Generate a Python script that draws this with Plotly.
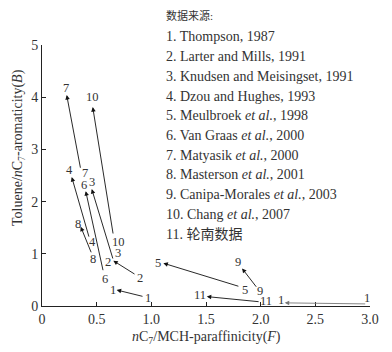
import plotly.graph_objects as go

# arrow data: tail (start) -> head (end), one arrow per data source
labels = ["1", "2", "3", "4", "5", "6", "7", "8", "9", "10", "11", "1"]
tail_x = [0.933, 0.86, 0.652, 0.433, 1.81, 0.561, 0.354, 0.455, 1.97, 0.652, 1.995, 2.97]
tail_y = [0.178, 0.594, 0.881, 1.30, 0.37, 0.657, 2.62, 1.00, 0.34, 1.36, 0.08, 0.04]
head_x = [0.683, 0.652, 0.455, 0.272, 1.11, 0.40, 0.226, 0.354, 1.83, 0.464, 1.507, 2.22]
head_y = [0.307, 0.868, 2.24, 2.47, 0.82, 2.20, 4.04, 1.52, 0.72, 3.81, 0.18, 0.06]

# label pixel offsets (dx right, dy down)
tail_off = [(4, 1), (4, 3), (5, -7), (3, 4), (5, 3), (2, 7), (4, 4), (1, 5), (3, 3), (5, 7), (6, -1), (0, -6)]
head_off = [(-4, 0), (-5, 1), (0, -7), (-2, -7), (-5, 0), (-2, -6), (-1, -7), (-3, -3), (-4, -6), (0, -10), (-7, -2), (-4, -3)]

sources = [
    "1. Thompson, 1987",
    "2. Larter and Mills, 1991",
    "3. Knudsen and Meisingset, 1991",
    "4. Dzou and Hughes, 1993",
    "5. Meulbroek <i>et al.</i>, 1998",
    "6. Van Graas <i>et al.</i>, 2000",
    "7. Matyasik <i>et al.</i>, 2000",
    "8. Masterson <i>et al.</i>, 2001",
    "9. Canipa-Morales <i>et al.</i>, 2003",
    "10. Chang <i>et al.</i>, 2007",
    "11. 轮南数据",
]

x_ticks = [0, 0.5, 1.0, 1.5, 2.0, 2.5, 3.0]
x_ticktext = ["0", "0.5", "1.0", "1.5", "2.0", "2.5", "3.0"]
y_ticks = [0, 1, 2, 3, 4, 5]

FONT = "Liberation Serif, Noto Sans CJK SC, serif"
TXT = "#333333"

L, R, T, B = 42, 22, 45, 46
W, H = 392, 352
pw, ph = W - L - R, H - T - B


def px2paper(px, py):
    return (px - L) / pw, (H - B - py) / ph


fig = go.Figure()
fig.add_trace(go.Scatter(x=[0, 3], y=[0, 5], mode="markers",
                         marker=dict(opacity=0), hoverinfo="skip", showlegend=False))

ann = []
for i, lab in enumerate(labels):
    col = "#777777" if i == len(labels) - 1 else "#111111"
    ann.append(dict(x=head_x[i], y=head_y[i], ax=tail_x[i], ay=tail_y[i],
                    xref="x", yref="y", axref="x", ayref="y", text="",
                    showarrow=True, arrowhead=2, arrowsize=1.0, arrowwidth=0.9,
                    arrowcolor=col, standoff=0, startstandoff=0))
    dx, dy = tail_off[i]
    ann.append(dict(x=tail_x[i], y=tail_y[i], xref="x", yref="y", text=lab,
                    showarrow=False, xshift=dx, yshift=-dy,
                    xanchor="center", yanchor="middle",
                    font=dict(family=FONT, size=12.5, color=TXT)))
    dx, dy = head_off[i]
    ann.append(dict(x=head_x[i], y=head_y[i], xref="x", yref="y", text=lab,
                    showarrow=False, xshift=dx, yshift=-dy,
                    xanchor="center", yanchor="middle",
                    font=dict(family=FONT, size=12.5, color=TXT)))

# legend of data sources
lx, ly = px2paper(164, 16)
ann.append(dict(x=lx, y=ly, xref="paper", yref="paper", text="数据来源:",
                showarrow=False, xanchor="left", yanchor="middle",
                font=dict(family=FONT, size=11, color=TXT)))
for i, s in enumerate(sources):
    lx, ly = px2paper(164, 37 + 19.7 * i)
    ann.append(dict(x=lx, y=ly, xref="paper", yref="paper", text=s,
                    showarrow=False, xanchor="left", yanchor="middle",
                    font=dict(family=FONT, size=14, color=TXT)))

# axis titles
tx, ty = px2paper(206, 337)
ann.append(dict(x=tx, y=ty, xref="paper", yref="paper",
                text="<i>n</i>C<sub>7</sub>/MCH-paraffinicity(<i>F</i>)",
                showarrow=False, xanchor="center", yanchor="middle",
                font=dict(family=FONT, size=14, color=TXT)))
tx, ty = px2paper(18, 148)
ann.append(dict(x=tx, y=ty, xref="paper", yref="paper", textangle=-90,
                text="Toluene/<i>n</i>C<sub>7</sub>-aromaticity(<i>B</i>)",
                showarrow=False, xanchor="center", yanchor="middle",
                font=dict(family=FONT, size=14, color=TXT)))

axis_common = dict(showline=True, linecolor="#222222", linewidth=1,
                   ticks="inside", ticklen=4, tickcolor="#222222",
                   showgrid=False, zeroline=False, automargin=False,
                   tickfont=dict(family=FONT, size=14, color=TXT))

fig.update_layout(
    width=W, height=H,
    margin=dict(l=L, r=R, t=T, b=B),
    plot_bgcolor="white", paper_bgcolor="white",
    xaxis=dict(range=[0, 3], tickvals=x_ticks, ticktext=x_ticktext, **axis_common),
    yaxis=dict(range=[0, 5], tickvals=y_ticks, **axis_common),
    annotations=ann,
    showlegend=False,
)
# drop the default page margin so the figure sits at the window's corner
fig.write_html("out.html", config={"displayModeBar": False},
               post_script="document.body.style.margin='0';")
